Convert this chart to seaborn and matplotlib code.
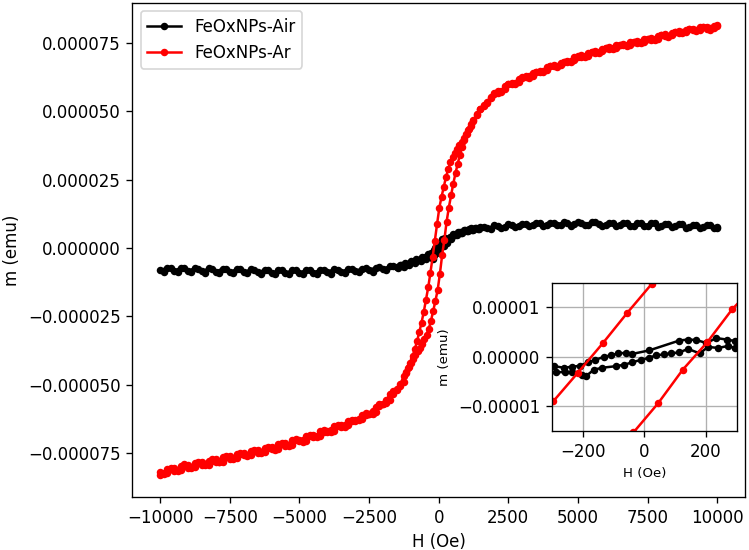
import numpy as np
import matplotlib
matplotlib.use("Agg")
import matplotlib.pyplot as plt
import seaborn as sns

# moments in units of 1e-6 emu, fields in Oe

# ---- FeOxNPs-Ar (red) descending branch: +10 kOe -> -10 kOe
ar_down_hi_h = [10000, 9875, 9750, 9625, 9500, 9375, 9250, 9125,
                9000, 8875, 8750, 8625, 8500, 8375, 8250, 8125,
                8000, 7875, 7750, 7625, 7500, 7375, 7250, 7125,
                7000, 6875, 6750, 6625, 6500, 6375, 6250, 6125,
                6000, 5875, 5750, 5625, 5500, 5375, 5250, 5125,
                5000, 4875, 4750, 4625, 4500, 4375, 4250, 4125,
                4000, 3875, 3750, 3625, 3500, 3375, 3250, 3125,
                3000, 2875, 2750, 2625, 2500, 2375, 2250, 2125,
                2000, 1875, 1750, 1625, 1500, 1375, 1250]
ar_down_hi_m = [81.6, 80.6, 80.0, 80.9, 81.0, 80.0, 79.4, 80.3,
                80.1, 79.0, 78.6, 79.4, 79.2, 78.1, 77.4, 78.2,
                77.9, 76.7, 76.0, 76.9, 76.6, 75.4, 74.9, 75.8,
                75.5, 74.3, 73.8, 74.7, 74.4, 73.2, 72.7, 73.5,
                73.2, 72.0, 71.3, 72.0, 71.7, 70.4, 69.8, 70.6,
                70.2, 68.8, 68.0, 68.6, 68.1, 66.9, 66.2, 67.0,
                66.5, 65.1, 64.4, 65.0, 64.5, 63.1, 62.3, 62.9,
                62.4, 60.9, 60.0, 60.5, 59.9, 58.3, 57.0, 57.4,
                56.9, 54.8, 53.0, 52.2, 50.9, 48.6, 47.0]
ar_down_mid_h = [1145, 1065, 985, 905, 825, 745, 665, 585, 505, 425, 345, 265, 185, 105, 25,
                 -55, -135, -215, -295, -375, -455, -535, -615, -695, -775, -855, -935,
                 -1015, -1095, -1175]
ar_down_mid_m = [44.6, 43.2, 41.6, 40.3, 38.9, 37.7, 36.3, 34.9, 33.2, 31.4, 29.0, 26.1, 22.5,
                 18.8, 14.8, 8.9, 2.7, -3.2, -9.0, -14.4, -19.0, -23.4, -27.3, -30.8, -34.0,
                 -37.0, -39.6, -41.9, -43.9, -45.7]
ar_down_lo_h = [-1250, -1375, -1500, -1625, -1750, -1875, -2000, -2125,
                -2250, -2375, -2500, -2625, -2750, -2875, -3000, -3125,
                -3250, -3375, -3500, -3625, -3750, -3875, -4000, -4125,
                -4250, -4375, -4500, -4625, -4750, -4875, -5000, -5125,
                -5250, -5375, -5500, -5625, -5750, -5875, -6000, -6125,
                -6250, -6375, -6500, -6625, -6750, -6875, -7000, -7125,
                -7250, -7375, -7500, -7625, -7750, -7875, -8000, -8125,
                -8250, -8375, -8500, -8625, -8750, -8875, -9000, -9125,
                -9250, -9375, -9500, -9625, -9750, -9875, -10000]
ar_down_lo_m = [-47.0, -49.6, -51.6, -52.3, -53.4, -55.6, -57.0, -57.2,
                -58.1, -59.8, -60.8, -60.4, -61.0, -62.6, -63.4, -62.9,
                -63.3, -64.8, -65.4, -64.7, -65.0, -66.7, -67.2, -66.6,
                -67.0, -68.7, -69.1, -68.3, -68.7, -70.4, -70.8, -70.0,
                -70.4, -72.0, -72.3, -71.4, -71.8, -73.3, -73.6, -72.7,
                -73.1, -74.6, -74.9, -73.9, -74.3, -75.6, -75.9, -74.9,
                -75.3, -76.9, -77.2, -76.2, -76.6, -78.2, -78.5, -77.4,
                -77.8, -79.1, -79.4, -78.2, -78.6, -80.0, -80.4, -79.2,
                -79.7, -81.1, -81.5, -80.6, -81.0, -82.4, -82.9]

# ---- FeOxNPs-Ar (red) ascending branch: -10 kOe -> +10 kOe
ar_up_lo_h = [-10000, -9875, -9750, -9625, -9500, -9375, -9250, -9125,
              -9000, -8875, -8750, -8625, -8500, -8375, -8250, -8125,
              -8000, -7875, -7750, -7625, -7500, -7375, -7250, -7125,
              -7000, -6875, -6750, -6625, -6500, -6375, -6250, -6125,
              -6000, -5875, -5750, -5625, -5500, -5375, -5250, -5125,
              -5000, -4875, -4750, -4625, -4500, -4375, -4250, -4125,
              -4000, -3875, -3750, -3625, -3500, -3375, -3250, -3125,
              -3000, -2875, -2750, -2625, -2500, -2375, -2250, -2125,
              -2000, -1875, -1750, -1625, -1500, -1375, -1250]
ar_up_lo_m = [-81.8, -82.6, -82.3, -81.0, -80.5, -81.5, -81.2, -79.8,
              -79.4, -80.5, -80.2, -78.8, -78.4, -79.6, -79.4, -77.8,
              -77.4, -78.5, -78.2, -76.6, -76.3, -77.3, -77.0, -75.4,
              -75.0, -76.1, -75.9, -74.3, -74.0, -75.1, -74.8, -73.2,
              -72.9, -73.8, -73.5, -71.8, -71.5, -72.4, -72.1, -70.4,
              -70.1, -70.9, -70.5, -68.9, -68.6, -69.3, -68.9, -67.2,
              -66.8, -67.4, -66.8, -65.2, -64.8, -65.4, -64.9, -63.3,
              -62.9, -63.1, -62.6, -61.0, -60.6, -60.7, -60.1, -58.0,
              -57.0, -56.6, -55.8, -53.4, -51.8, -50.4, -49.0]
ar_up_mid_h = [-1155, -1075, -995, -915, -835, -755, -675, -595, -515, -435, -355, -275,
               -195, -115, -35, 45, 125, 205, 285, 365, 445, 525, 605, 685, 765, 845, 925,
               1005, 1085, 1165]
ar_up_mid_m = [-45.2, -43.7, -42.2, -40.6, -39.2, -37.8, -36.5, -35.0, -33.4, -31.7, -29.5,
               -26.6, -23.0, -19.3, -15.3, -9.4, -2.6, 3.0, 9.6, 14.8, 19.3, 23.6, 27.4,
               30.9, 34.2, 37.1, 39.5, 41.8, 43.7, 45.4]
ar_up_hi_h = [1250, 1375, 1500, 1625, 1750, 1875, 2000, 2125,
              2250, 2375, 2500, 2625, 2750, 2875, 3000, 3125,
              3250, 3375, 3500, 3625, 3750, 3875, 4000, 4125,
              4250, 4375, 4500, 4625, 4750, 4875, 5000, 5125,
              5250, 5375, 5500, 5625, 5750, 5875, 6000, 6125,
              6250, 6375, 6500, 6625, 6750, 6875, 7000, 7125,
              7250, 7375, 7500, 7625, 7750, 7875, 8000, 8125,
              8250, 8375, 8500, 8625, 8750, 8875, 9000, 9125,
              9250, 9375, 9500, 9625, 9750, 9875, 10000]
ar_up_hi_m = [46.4, 48.9, 50.9, 52.1, 53.6, 55.4, 56.4, 56.9,
              57.6, 59.2, 60.0, 60.1, 60.6, 62.0, 62.5, 62.5,
              62.9, 64.2, 64.6, 64.6, 65.0, 66.2, 66.6, 66.5,
              66.8, 67.8, 68.1, 68.2, 68.6, 69.8, 70.1, 69.9,
              70.3, 71.4, 71.7, 71.5, 71.8, 72.9, 73.2, 72.9,
              73.2, 74.3, 74.5, 74.2, 74.5, 75.5, 75.6, 75.0,
              75.3, 76.5, 76.7, 76.3, 76.6, 77.7, 77.9, 77.5,
              77.8, 78.8, 79.0, 78.8, 79.1, 80.0, 80.2, 79.7,
              80.0, 80.8, 81.0, 80.3, 80.5, 81.2, 81.4]

# ---- FeOxNPs-Air (black), descending branch
h_air_down = [10000, 9750, 9500, 9250, 9000, 8750, 8500, 8250, 8000, 7750, 7500, 7250,
              7000, 6750, 6500, 6250, 6000, 5750, 5500, 5250, 5000, 4750, 4500, 4250,
              4000, 3750, 3500, 3250, 3000, 2750, 2500, 2250, 2000, 1750,
              1500, 1400, 1300, 1200, 1100, 1000, 900, 800, 700, 600, 500, 400,
              294, 267, 234, 202, 169, 142, 114, 16, -38, -60, -84, -109, -131, -158,
              -182, -207, -234, -261, -291,
              -400, -500, -600, -700, -800, -900, -1000, -1100, -1200, -1300, -1400, -1500,
              -1750, -2000, -2250, -2500, -2750, -3000, -3250, -3500, -3750, -4000, -4250,
              -4500, -4750, -5000, -5250, -5500, -5750, -6000, -6250, -6500, -6750, -7000,
              -7250, -7500, -7750, -8000, -8250, -8500, -8750, -9000, -9250, -9500, -9750,
              -10000]
m_air_down = [7.3, 8.3, 7.7, 8.6, 7.6, 8.7, 7.9, 8.9, 7.9, 9.0, 8.1, 9.2,
              8.2, 9.3, 8.3, 9.3, 8.4, 8.9, 9.5, 8.3, 9.4, 8.2, 9.4, 8.3,
              9.3, 8.0, 9.2, 7.9, 8.9, 7.8, 8.7, 7.5, 8.3, 7.3,
              7.6, 6.9, 7.3, 6.6, 6.9, 6.2, 6.5, 5.6, 5.9, 4.9, 5.0, 3.9,
              3.2, 3.5, 3.8, 2.8, 3.4, 3.5, 3.3, 1.3, 0.6, 0.8, 0.7, 0.3, 0.0, -0.6,
              -1.1, -1.8, -2.0, -2.2, -1.9,
              -2.3, -3.3, -3.2, -4.2, -4.0, -5.0, -4.8, -5.7, -5.5, -6.4, -6.1, -6.9,
              -6.6, -7.6, -7.2, -7.9, -7.6, -8.3, -7.6, -8.7, -7.7, -8.7, -7.9,
              -9.0, -7.9, -9.1, -8.0, -9.2, -8.2, -9.0, -8.0, -8.9, -7.8, -8.9,
              -7.7, -8.8, -7.5, -8.6, -7.4, -8.5, -7.3, -8.4, -7.2, -8.3, -7.2,
              -8.1]

# ---- FeOxNPs-Air (black), ascending branch
h_air_up = [-9875, -9625, -9375, -9125, -8875, -8625, -8375, -8125, -7875, -7625, -7375,
            -7125, -6875, -6625, -6375, -6125, -5875, -5625, -5375, -5125, -4875, -4625,
            -4375, -4125, -3875, -3625, -3375, -3125, -2875, -2625, -2375, -2125, -1875,
            -1625,
            -1450, -1350, -1250, -1150, -1050, -950, -850, -750, -650, -550, -450, -350,
            -287, -258, -234, -202, -189, -163, -136, -93, -65, -38, -11, 16, 38, 65, 87,
            114, 142, 180, 207, 240, 272, 294,
            350, 450, 550, 650, 750, 850, 950, 1050, 1150, 1250, 1350, 1450,
            1625, 1875, 2125, 2375, 2625, 2875, 3125, 3375, 3625, 3875, 4125, 4375, 4625,
            4875, 5125, 5375, 5625, 5875, 6125, 6375, 6625, 6875, 7125, 7375, 7625, 7875,
            8125, 8375, 8625, 8875, 9125, 9375, 9625, 9875, 10000]
m_air_up = [-8.6, -7.2, -8.7, -7.4, -8.9, -7.5, -9.0, -7.6, -9.1, -7.7, -9.2,
            -7.8, -9.3, -8.0, -9.4, -8.0, -9.5, -8.1, -9.6, -8.2, -9.6, -8.1,
            -9.5, -8.0, -9.4, -7.9, -9.2, -7.7, -8.9, -7.4, -8.6, -7.1, -8.0,
            -6.6,
            -7.3, -6.3, -6.9, -5.8, -6.3, -5.2, -5.6, -4.5, -4.8, -3.7, -4.1, -3.0,
            -3.1, -3.1, -3.1, -3.6, -3.9, -2.6, -2.2, -1.9, -1.6, -1.1, -0.6, -0.2, 0.3,
            0.5, 0.7, 0.9, 1.6, 0.7, 2.0, 1.8, 2.2, 1.8,
            3.2, 3.3, 4.6, 4.6, 5.8, 5.4, 6.6, 6.1, 7.2, 6.5, 7.5, 6.9,
            7.6, 7.0, 8.2, 7.6, 8.5, 8.0, 8.8, 8.3, 9.0, 8.5, 9.1, 8.6, 9.2,
            8.7, 9.3, 8.4, 9.4, 8.2, 9.3, 8.1, 9.2, 8.0, 9.1, 7.9, 9.0, 7.7,
            8.8, 7.6, 8.7, 7.5, 8.5, 7.3, 8.4, 7.2, 7.8]

x_ticks = [-10000, -7500, -5000, -2500, 0, 2500, 5000, 7500, 10000]
y_ticks = [-0.000075, -0.00005, -0.000025, 0.0, 0.000025, 0.00005, 0.000075]
inset_x_ticks = [-200, 0, 200]
inset_y_ticks = [-0.00001, 0.0, 0.00001]

# full loops, one line per sample
h_air = np.array(h_air_down + h_air_up, dtype=float)
m_air = np.array(m_air_down + m_air_up) * 1e-6
h_ar = np.array(ar_down_hi_h + ar_down_mid_h + ar_down_lo_h
                + ar_up_lo_h + ar_up_mid_h + ar_up_hi_h, dtype=float)
m_ar = np.array(ar_down_hi_m + ar_down_mid_m + ar_down_lo_m
                + ar_up_lo_m + ar_up_mid_m + ar_up_hi_m) * 1e-6

fig = plt.figure(figsize=(749 / 120, 550 / 120), dpi=120)
ax = fig.add_axes([0.1766, 0.0964, 0.8181, 0.8987])

style = dict(sort=False, estimator=None, marker='.', markersize=7, markeredgewidth=1,
             linewidth=1.5)
sns.lineplot(x=h_air, y=m_air, ax=ax, color='black', markeredgecolor='black',
             label='FeOxNPs-Air', **style)
sns.lineplot(x=h_ar, y=m_ar, ax=ax, color='red', markeredgecolor='red',
             label='FeOxNPs-Ar', **style)
ax.set_xticks(x_ticks)
ax.set_yticks(y_ticks)
ax.ticklabel_format(axis='y', style='plain', useOffset=False)
ax.set_xlabel('H (Oe)')
ax.set_ylabel('m (emu)')
ax.legend(loc='upper left')

# inset zoom around the origin
axin = fig.add_axes([0.7366, 0.2164, 0.247, 0.2696])
sns.lineplot(x=h_air, y=m_air, ax=axin, color='black', markeredgecolor='black', **style)
sns.lineplot(x=h_ar, y=m_ar, ax=axin, color='red', markeredgecolor='red', **style)
axin.set_xlim(-300, 300)
axin.set_ylim(-1.5e-5, 1.5e-5)
axin.set_xticks(inset_x_ticks)
axin.set_yticks(inset_y_ticks)
axin.ticklabel_format(axis='y', style='plain', useOffset=False)
axin.grid(True)
axin.set_xlabel('H (Oe)', fontsize=8)
axin.set_ylabel('m (emu)', fontsize=8)

fig.savefig('out.png', dpi=120)
